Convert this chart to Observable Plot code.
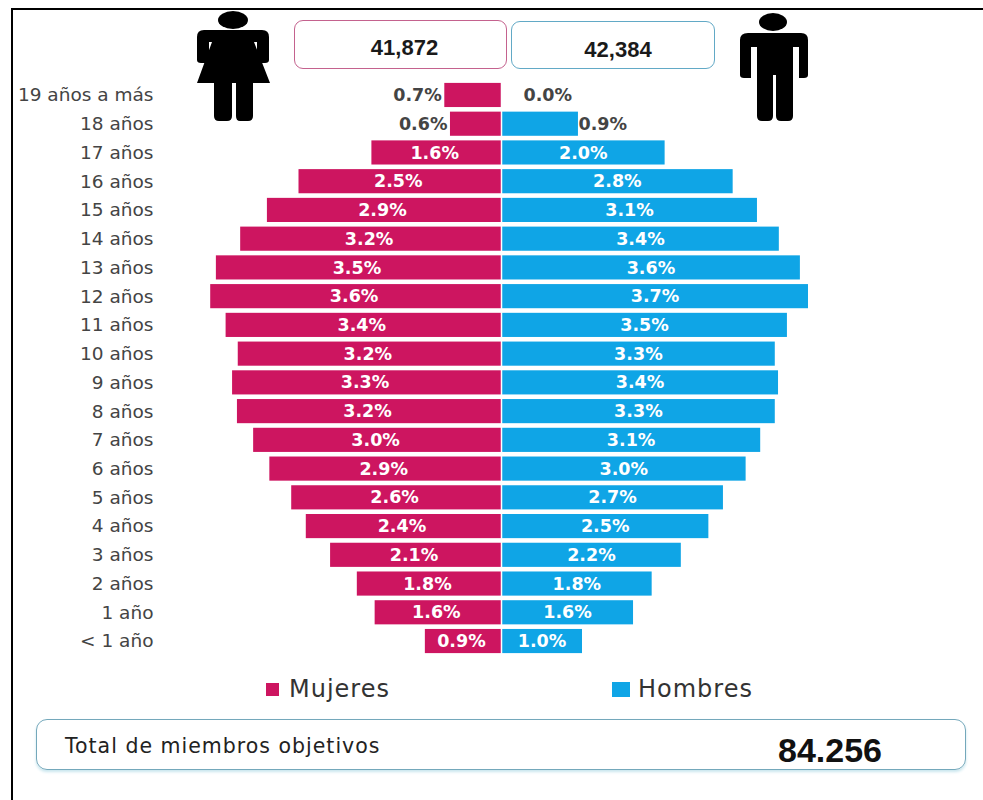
<!DOCTYPE html>
<html lang="es">
<head>
<meta charset="utf-8">
<script src="https://cdn.jsdelivr.net/npm/d3@7"></script>
<script src="https://cdn.jsdelivr.net/npm/@observablehq/plot@0.6"></script>
<style>
  html, body { margin: 0; background: #fff; }
  #page { position: relative; width: 983px; height: 800px; overflow: hidden; }
  #chart { position: absolute; left: 0; top: 0; }
  .frame-top { position: absolute; left: 11px; top: 8px; right: 0; height: 2px; background: #000; }
  .frame-left { position: absolute; left: 11px; top: 8px; bottom: 0; width: 2px; background: #000; }
  .box { position: absolute; box-sizing: border-box; background: #fff; text-align: center;
         font: bold 22px "Liberation Sans", sans-serif; color: #1a1a1a; }
  .f { left: 294px; top: 20px; width: 213px; height: 49px; line-height: 53px; padding-left: 8px; border: 1.5px solid #c4628e; border-radius: 9px; }
  .m { left: 511px; top: 21px; width: 204px; height: 48px; line-height: 55px; padding-left: 10px; border: 1.5px solid #62a9c6; border-radius: 9px; }
  .total { position: absolute; box-sizing: border-box; left: 36px; top: 719px; width: 930px; height: 51px;
           border: 1.5px solid #74a8bb; border-radius: 11px; box-shadow: 0 2px 3px #c9e6ee; }
  .total-label { position: absolute; left: 65px; top: 732px; font: 20.5px/28px "DejaVu Sans", sans-serif; letter-spacing: 1px; color: #222; }
  .total-value { position: absolute; left: 778px; top: 732px; font: bold 34px/36px "Liberation Sans", sans-serif; color: #111; }
  .swatch { position: absolute; top: 683px; height: 13px; }
  .legend { position: absolute; top: 674px; font: 24px/30px "DejaVu Sans", sans-serif; letter-spacing: 1px; color: #333; }
  svg.icon { position: absolute; left: 0; top: 0; }
</style>
</head>
<body>
<div id="page">
  <div id="chart"></div>
  <div class="frame-top"></div>
  <div class="frame-left"></div>
  <div class="box f" id="countF"></div>
  <div class="box m" id="countM"></div>
  <svg class="icon" width="983" height="130" fill="#000">
    <ellipse cx="233" cy="20" rx="15" ry="9"/>
    <path d="M204 30H262Q269 30 269 37V60Q269 63 265 63H257V42H254L270 83H253V116Q253 121 248 121H240Q236 121 236 116V83H232V116Q232 121 227 121H219Q214 121 214 116V83H197L212 42H209V63H201Q197 63 197 60V37Q197 30 204 30Z"/>
    <ellipse cx="773" cy="22" rx="14" ry="9"/>
    <path d="M748 33H801Q808 33 808 40V75Q808 78 804 78H799V47H793V116Q793 121 788 121H781Q776 121 776 116V75H773V116Q773 121 768 121H762Q757 121 757 116V47H751V78H744Q740 78 740 75V40Q740 33 748 33Z"/>
  </svg>
  <div class="swatch" id="swF" style="left:266px;width:13px"></div>
  <div class="legend" style="left:289px" id="legF"></div>
  <div class="swatch" id="swM" style="left:612px;width:18px;top:682px;height:15px"></div>
  <div class="legend" style="left:638px" id="legM"></div>
  <div class="total"></div>
  <div class="total-label" id="totalLabel"></div>
  <div class="total-value" id="totalValue"></div>
</div>
<script>
const categorias = ["19 años a más","18 años","17 años","16 años","15 años","14 años","13 años","12 años","11 años","10 años","9 años","8 años","7 años","6 años","5 años","4 años","3 años","2 años","1 año","< 1 año"];
const mujeres = [0.70,0.63,1.60,2.50,2.89,3.22,3.52,3.59,3.40,3.25,3.32,3.26,3.06,2.86,2.59,2.41,2.11,1.78,1.56,0.94];
const hombres = [0.00,0.95,2.02,2.86,3.16,3.43,3.69,3.79,3.53,3.38,3.42,3.38,3.20,3.02,2.74,2.56,2.22,1.86,1.63,1.00];
const etiquetasMujeres = ["0.7%","0.6%","1.6%","2.5%","2.9%","3.2%","3.5%","3.6%","3.4%","3.2%","3.3%","3.2%","3.0%","2.9%","2.6%","2.4%","2.1%","1.8%","1.6%","0.9%"];
const etiquetasHombres = ["0.0%","0.9%","2.0%","2.8%","3.1%","3.4%","3.6%","3.7%","3.5%","3.3%","3.4%","3.3%","3.1%","3.0%","2.7%","2.5%","2.2%","1.8%","1.6%","1.0%"];
const series = ["Mujeres","Hombres"];
const colores = ["#cd1560","#0fa5e6"];
const totales = ["41,872","42,384"];
const totalTitulo = "Total de miembros objetivos";
const totalValor = "84.256";

const filas = categorias.map((c, i) => ({
  c, f: -mujeres[i], m: hombres[i],
  lf: etiquetasMujeres[i], lm: etiquetasHombres[i], i
}));
const dentro = filas.filter(d => d.i >= 2);
const labelFont = {fontFamily: "'DejaVu Sans', sans-serif", fontWeight: "bold", fontSize: 17.5};

const plot = Plot.plot({
  width: 983, height: 800,
  marginLeft: 157, marginRight: 0, marginTop: 0, marginBottom: 0,
  x: {domain: [-344 / 81, 482 / 81], axis: null},
  y: {domain: categorias, range: [80.6, 655.4], paddingInner: 0.16, paddingOuter: 0.08, round: false, label: null},
  style: {background: "transparent"},
  marks: [
    Plot.barX(filas, {x1: 0, x2: "f", y: "c", fill: colores[0]}),
    Plot.barX(filas, {x1: 0, x2: "m", y: "c", fill: colores[1]}),
    Plot.ruleX([0], {stroke: "#fff", strokeWidth: 1.5}),
    Plot.axisY({tickSize: 0, tickPadding: 4, fontSize: 18.5, label: null,
      fontFamily: "'DejaVu Sans', sans-serif", color: "#444"}),
    Plot.text(dentro, {x: d => d.f / 2, y: "c", text: "lf", fill: "#fff", dx: -2, ...labelFont}),
    Plot.text(dentro, {x: d => d.m / 2, y: "c", text: "lm", fill: "#fff", ...labelFont}),
    Plot.text(filas.slice(0, 2), {x: "f", y: "c", text: "lf", fill: "#444", textAnchor: "end", dx: -3, ...labelFont}),
    Plot.text(filas.slice(0, 1), {x: "m", y: "c", text: "lm", fill: "#444", textAnchor: "start", dx: 22, ...labelFont}),
    Plot.text(filas.slice(1, 2), {x: "m", y: "c", text: "lm", fill: "#444", textAnchor: "start", ...labelFont})
  ]
});
document.getElementById("chart").append(plot);

document.getElementById("countF").textContent = totales[0];
document.getElementById("countM").textContent = totales[1];
document.getElementById("swF").style.background = colores[0];
document.getElementById("swM").style.background = colores[1];
document.getElementById("legF").textContent = series[0];
document.getElementById("legM").textContent = series[1];
document.getElementById("totalLabel").textContent = totalTitulo;
document.getElementById("totalValue").textContent = totalValor;
</script>
</body>
</html>
